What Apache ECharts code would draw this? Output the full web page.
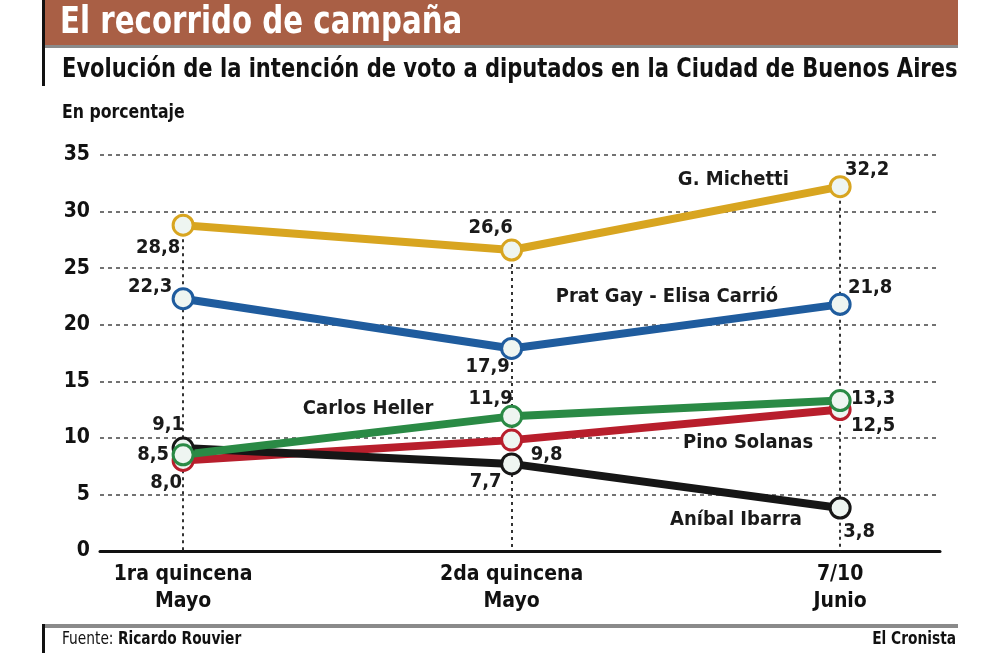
<!DOCTYPE html>
<html>
<head>
<meta charset="utf-8">
<script src="https://cdn.jsdelivr.net/npm/echarts@6/dist/echarts.min.js"></script>
<style>
  html, body { margin: 0; padding: 0; background: #fff; }
  #chart { width: 1000px; height: 653px; }
</style>
</head>
<body>
<div id="chart"></div>
<script>
const FONT = '"DejaVu Sans Condensed", "Liberation Sans Narrow", sans-serif'

const categories = ['1ra quincena\nMayo', '2da quincena\nMayo', '7/10\nJunio']
const yTicks = [0, 5, 10, 15, 20, 25, 30, 35]

const michetti = [28.8, 26.6, 32.2]
const pratGay = [22.3, 17.9, 21.8]
const heller = [8.5, 11.9, 13.3]
const solanas = [8.0, 9.8, 12.5]
const ibarra = [9.1, 7.7, 3.8]

const seriesDefs = [
  { name: 'G. Michetti', data: michetti, color: '#d8a520' },
  { name: 'Prat Gay - Elisa Carrió', data: pratGay, color: '#1f5c9e' },
  { name: 'Pino Solanas', data: solanas, color: '#b81e2c' },
  { name: 'Aníbal Ibarra', data: ibarra, color: '#161616' },
  { name: 'Carlos Heller', data: heller, color: '#2a8a45' },
]

// value label offsets (px) from each point, per series
const labelOffsets = {
  'G. Michetti': [[-25, 23], [-21, -22], [27, -17]],
  'Prat Gay - Elisa Carrió': [[-33, -12], [-24, 18], [30, -17]],
  'Carlos Heller': [[-30, 0], [-21, -18], [33, -2]],
  'Pino Solanas': [[-17, 22], [35, 15], [33, 16]],
  'Aníbal Ibarra': [[-15, -23], [-26, 18], [19, 24]],
}

// where each series name sits, in axis units
const nameSpots = {
  'G. Michetti': [1.675, 32.8],
  'Prat Gay - Elisa Carrió': [1.473, 22.5],
  'Carlos Heller': [0.563, 12.6],
  'Pino Solanas': [1.72, 9.6],
  'Aníbal Ibarra': [1.683, 2.8],
}

const fmt = v => v.toFixed(1).replace('.', ',')

const chart = echarts.init(document.getElementById('chart'), null, { renderer: 'canvas' })

const tops = categories.map((c, i) => Math.max(...seriesDefs.map(s => s.data[i])))

const series = seriesDefs.map(s => ({
  name: s.name,
  type: 'line',
  z: 3,
  data: s.data.map((v, i) => ({
    value: [i, v],
    label: {
      show: true,
      position: 'inside',
      offset: labelOffsets[s.name][i],
      formatter: () => fmt(v),
      fontFamily: FONT,
      fontWeight: 'bold',
      fontSize: 20,
      color: '#1a1a1a',
    },
  })),
  symbol: 'circle',
  symbolSize: 20,
  lineStyle: { color: s.color, width: 8 },
  itemStyle: { color: '#eef5f1', borderColor: s.color, borderWidth: 3 },
  markPoint: {
    symbol: 'circle',
    symbolSize: 1,
    silent: true,
    itemStyle: { color: 'rgba(0,0,0,0)' },
    label: {
      show: true,
      position: 'inside',
      fontFamily: FONT,
      fontWeight: 'bold',
      fontSize: 20,
      color: '#1a1a1a',
      backgroundColor: '#fff',
      padding: [0, 4],
      formatter: s.name,
    },
    data: [{ coord: nameSpots[s.name] }],
  },
  animation: false,
}))

series.unshift({
  type: 'line',
  z: 1,
  data: [],
  markLine: {
    z: 1,
    silent: true,
    symbol: 'none',
    label: { show: false },
    lineStyle: { color: '#333', type: [3, 4], width: 2 },
    data: tops.map((t, i) => [{ coord: [i, t] }, { coord: [i, 0] }]),
  },
  animation: false,
})

const option = {
  animation: false,
  backgroundColor: '#fff',
  graphic: [
    { type: 'rect', shape: { x: 42, y: 0, width: 916, height: 45 }, style: { fill: '#a95f45' } },
    { type: 'rect', shape: { x: 42, y: 45, width: 916, height: 3 }, style: { fill: '#8a8a8a' } },
    { type: 'rect', shape: { x: 42, y: 0, width: 3, height: 86 }, style: { fill: '#111' } },
    { type: 'rect', shape: { x: 42, y: 624, width: 916, height: 4 }, style: { fill: '#8a8a8a' } },
    { type: 'rect', shape: { x: 42, y: 624, width: 3, height: 29 }, style: { fill: '#111' } },
    {
      type: 'text', x: 60, y: 5, scaleX: 0.88,
      style: { text: 'El recorrido de campaña', fontFamily: FONT, fontWeight: 'bold', fontSize: 37, fill: '#fff' },
    },
    {
      type: 'text', x: 62, y: 57, scaleX: 0.9,
      style: {
        text: 'Evolución de la intención de voto a diputados en la Ciudad de Buenos Aires',
        fontFamily: FONT, fontWeight: 'bold', fontSize: 26, fill: '#111',
      },
    },
    {
      type: 'text', x: 62, y: 104, scaleX: 0.92,
      style: { text: 'En porcentaje', fontFamily: FONT, fontWeight: 'bold', fontSize: 19, fill: '#111' },
    },
    {
      type: 'text', x: 62, y: 631, scaleX: 0.9,
      style: {
        text: '{n|Fuente: }{b|Ricardo Rouvier}',
        rich: {
          n: { fontFamily: FONT, fontSize: 17, fill: '#111' },
          b: { fontFamily: FONT, fontSize: 17, fontWeight: 'bold', fill: '#111' },
        },
      },
    },
    {
      type: 'text', x: 956, y: 631, scaleX: 0.9,
      style: { text: 'El Cronista', align: 'right', fontFamily: FONT, fontSize: 17, fontWeight: 'bold', fill: '#111' },
    },
  ],
  grid: { left: 100, right: 60, top: 155, bottom: 102 },
  xAxis: {
    type: 'value',
    min: -0.253,
    max: 2.304,
    axisLine: { show: true, onZero: false, lineStyle: { color: '#111', width: 3 } },
    axisTick: { show: false },
    splitLine: { show: false },
    axisLabel: {
      customValues: categories.map((c, i) => i),
      formatter: v => categories[Math.round(v)],
      fontFamily: FONT,
      fontWeight: 'bold',
      fontSize: 21,
      lineHeight: 27,
      color: '#111',
      margin: 10,
    },
  },
  yAxis: {
    type: 'value',
    min: yTicks[0],
    max: yTicks[yTicks.length - 1],
    interval: 5,
    axisLine: { show: false },
    axisTick: { show: false },
    splitLine: { lineStyle: { color: '#444', type: [4, 4], width: 1.5 } },
    axisLabel: {
      fontFamily: FONT,
      fontWeight: 'bold',
      fontSize: 21,
      color: '#111',
      margin: 10,
    },
  },
  series,
}

chart.setOption(option)
</script>
</body>
</html>
